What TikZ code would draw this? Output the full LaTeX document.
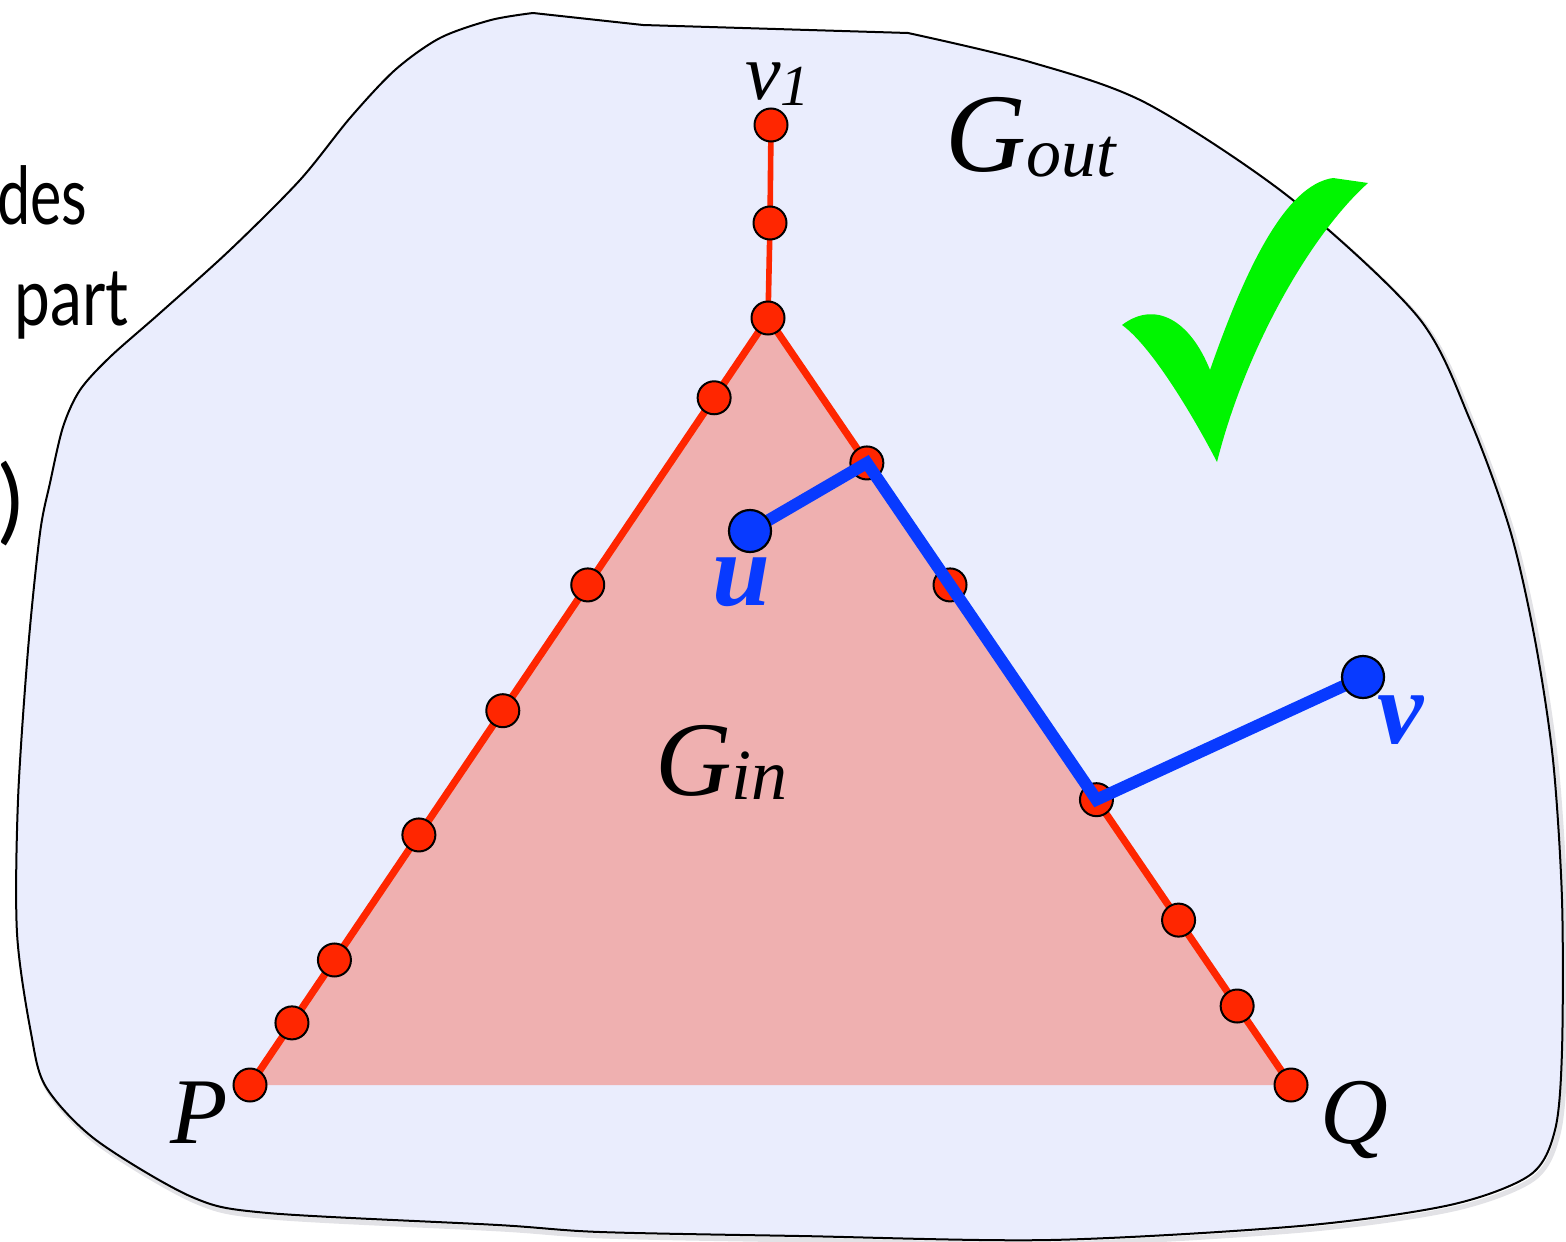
\documentclass[tikz,border=0pt]{standalone}
\usepackage{fontspec}
\setmainfont{Liberation Serif}
\newfontfamily\gillish{Lato}
\usetikzlibrary{calc}
\newcommand\myfs[1]{\fontsize{#1}{#1}\selectfont}
\definecolor{blobfill}{RGB}{234,237,253}
\definecolor{blobshade}{RGB}{226,226,230}
\definecolor{trifill}{RGB}{239,176,176}
\definecolor{redline}{RGB}{255,38,0}
\definecolor{blueline}{RGB}{8,58,255}
\definecolor{checkgreen}{RGB}{0,245,0}
\tikzset{
  blob/.style={fill=blobfill, draw=black, line width=1pt, line join=round},
  redpath/.style={draw=redline, line width=3.6pt, line join=round},
  rdot/.style={circle, fill=redline, draw=black, line width=1pt, minimum size=16.5pt, inner sep=0pt},
  bline/.style={draw=blueline, line width=6pt, line join=miter},
  bdot/.style={circle, fill=blueline, draw=black, line width=1.1pt, minimum size=21pt, inner sep=0pt},
  lbl/.style={anchor=base west, inner sep=0pt},
  sidetext/.style={anchor=base east, inner sep=0pt, font=\gillish\myfs{40}}
}
\begin{document}
\begin{tikzpicture}[x=0.5pt,y=-0.5pt]
\useasboundingbox (0,0) rectangle (1566,1241);
% left text fragments
\node[sidetext] (t1) at (88,225) {\scalebox{0.74}[1]{des}};
\node[sidetext] (t2) at (129,325) {\scalebox{0.8}[1]{part}};
\node[sidetext, font=\gillish\myfs{46}] (t3) at (23,532) {)};
% blob shade and blob
\def\blobpath{(533,13) -- (643,25) -- (908,33) -- plot[smooth, tension=0.5] coordinates {
 (908,33) (1030,62) (1146,103) (1289,197) (1418,317) (1470,420) (1510,530) (1535,640)
 (1553,760) (1562,900) (1562,1050) (1555,1130) (1530,1175) (1450,1205) (1300,1226)
 (1050,1240) (800,1236) (600,1232) (498,1225) (268,1213) (192,1197) (96,1140) (46,1087)
 (31,1033) (17,933) (18,800) (28,650) (40,533) (50,483) (63,427) (80,390) (110,357)
 (160,313) (230,250) (300,180) (350,118) (395,70) (440,38) (491,20) (533,13)} -- cycle}
\draw[draw=blobshade, line width=2.5pt, shift={(3,4)}] \blobpath;
\draw[blob] \blobpath;
% checkmark
\fill[checkgreen] (1122,325) .. controls (1155,300) and (1190,320) .. (1210,370)
  .. controls (1245,270) and (1285,185) .. (1333,178) -- (1368,183)
  .. controls (1310,235) and (1245,350) .. (1217,462)
  .. controls (1190,410) and (1150,345) .. cycle;
% coordinates
\coordinate (cA) at (768,318);
\coordinate (cP) at (250,1085);
\coordinate (cQ) at (1291,1085);
\coordinate (cV1) at (771,125);
\coordinate (cS1) at (770,223);
\coordinate (cL1) at ($(cA)!0.104!(cP)$);
\coordinate (cL2) at ($(cA)!0.348!(cP)$);
\coordinate (cL3) at ($(cA)!0.512!(cP)$);
\coordinate (cL4) at ($(cA)!0.674!(cP)$);
\coordinate (cL5) at ($(cA)!0.837!(cP)$);
\coordinate (cL6) at ($(cA)!0.919!(cP)$);
\coordinate (cR1) at ($(cA)!0.189!(cQ)$);
\coordinate (cR2) at ($(cA)!0.348!(cQ)$);
\coordinate (cR3) at ($(cA)!0.628!(cQ)$);
\coordinate (cR4) at ($(cA)!0.785!(cQ)$);
\coordinate (cR5) at ($(cA)!0.897!(cQ)$);
\coordinate (cU) at (750,531);
\coordinate (cV) at (1363,677);
% triangle
\fill[trifill] (cA) -- (cP) -- (cQ) -- cycle;
\draw[redpath] (cP) -- (cA) -- (cQ);
\draw[redpath, line width=2.8pt] (cA) -- (cS1) -- (cV1);
% red dots
\foreach \n in {A,P,Q,V1,S1,L1,L2,L3,L4,L5,L6,R1,R2,R3,R4,R5}
  \node[rdot] (\n) at (c\n) {};
% blue path
\draw[bline] (cU) -- (cR1) -- (cR3) -- (cV);
\node[bdot] (u) at (cU) {};
\node[bdot] (v) at (cV) {};
% labels
\node[lbl] (lv1) at (745,100) {\myfs{40}\itshape v\raisebox{-3pt}{\myfs{29}1}};
\node[lbl] (lgout) at (945,172) {\myfs{56}\itshape G\raisebox{-2pt}{\myfs{35}out}};
\node[lbl] (lgin) at (655,795) {\myfs{53}\itshape G\raisebox{-2pt}{\myfs{36}in}};
\node[lbl] (lp) at (170,1143) {\myfs{47}\itshape P};
\node[lbl] (lq) at (1320,1143) {\myfs{47}\itshape Q};
\node[lbl, text=blueline] (lu) at (712,605) {\myfs{52}\bfseries\itshape u};
\node[lbl, text=blueline] (lv) at (1377,743) {\myfs{52}\bfseries\itshape v};
\end{tikzpicture}
\end{document}
